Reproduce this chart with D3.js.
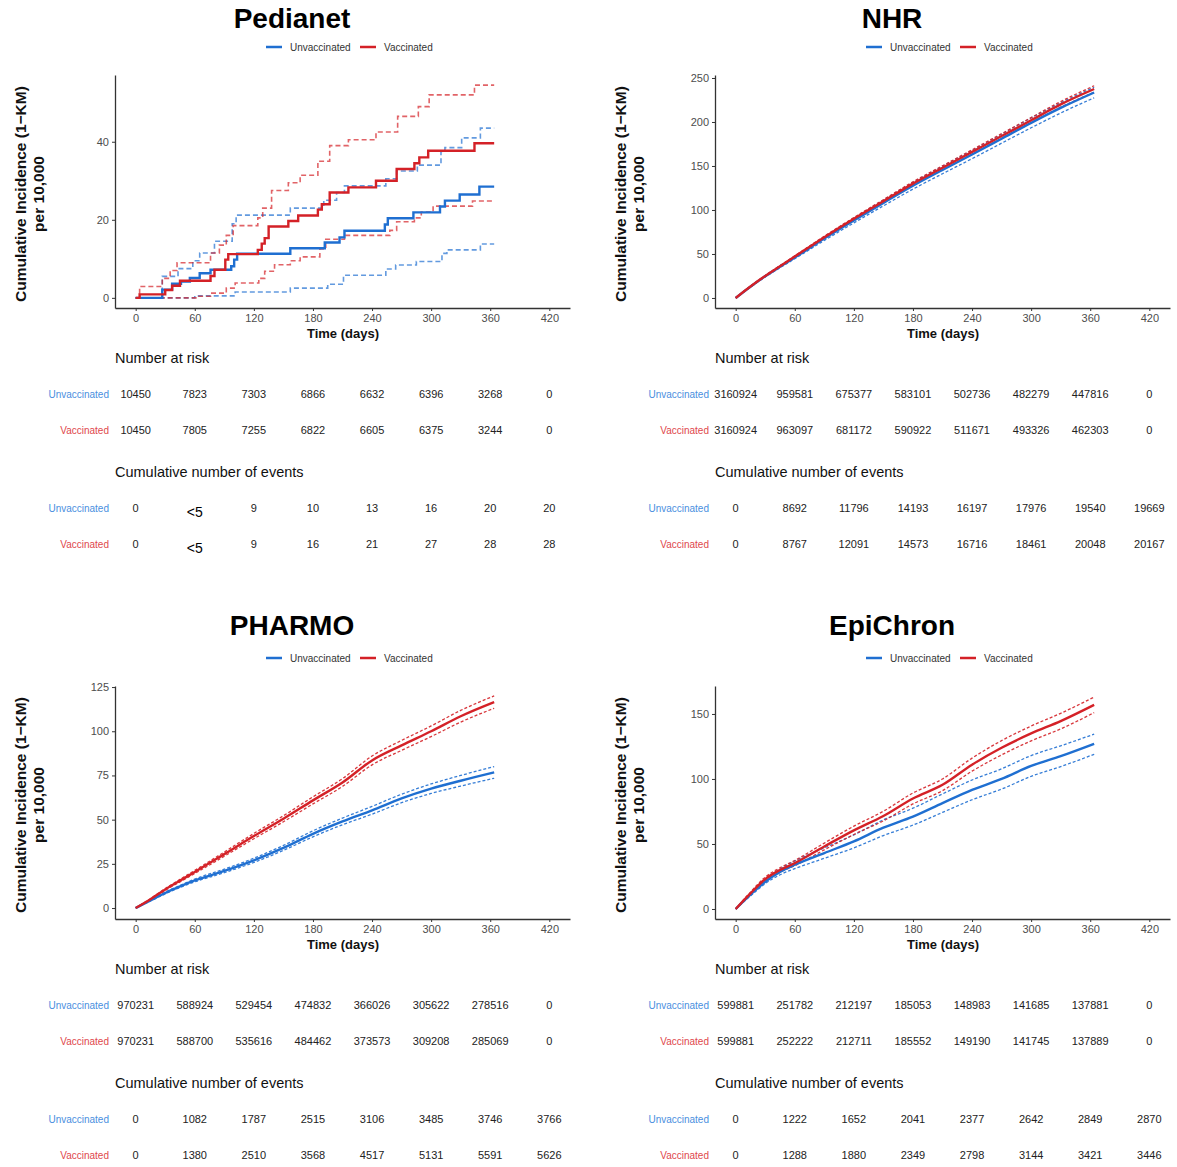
<!DOCTYPE html>
<html lang="en">
<head>
<meta charset="UTF-8">
<title>Cumulative incidence by data source</title>
<script src="https://d3js.org/d3.v7.min.js"></script>
<style>
  body { margin: 0; background: #fff; }
  svg text { font-family: "Liberation Sans", Arial, Helvetica, sans-serif; }
  .title { font-size: 28px; font-weight: bold; fill: #000; }
  .legend-text { font-size: 10px; fill: #333; }
  .tick text { font-size: 11px; fill: #4d4d4d; }
  .axis path, .axis line { stroke: #333; }
  .axis-title { font-size: 13px; font-weight: bold; fill: #111; }
  .ylab { font-size: 15.5px; font-weight: bold; fill: #111; }
  .tbl-head { font-size: 14.5px; fill: #111; }
  .tbl-row { font-size: 10px; }
  .tbl-num { font-size: 11px; fill: #222; }
</style>
</head>
<body>
<div id="chart"></div>
<script>
// ---- shared values ----
const xTicks = [0, 60, 120, 180, 240, 300, 360, 420];
const groups = ["Unvaccinated", "Vaccinated"];

// ---- Pedianet (step curves: [day, value]) ----
const pedianetUnvacc = [[0,0],[27,2.1],[37,3.6],[46,4.2],[55,5.1],[65,6.3],[76,7.2],[97,8.1],[100,9.8],[103,11.3],[157,12.7],[192,14.2],[207,15.5],[212,17.2],[253,18.8],[256,20.4],[282,21.9],[309,23.4],[314,24.9],[329,26.5],[349,28.5],[364,28.5]];
const pedianetUnvaccLo = [[0,0],[60,0.5],[101,1.5],[157,2.5],[195,3.5],[211,5.8],[254,7.4],[264,8.4],[285,9.3],[311,11.4],[316,12.3],[350,13.8],[364,13.8]];
const pedianetUnvaccHi = [[0,0],[27,5.5],[43,7.5],[58,9.5],[65,11.5],[80,14.5],[98,19],[102,21.2],[157,23],[191,25],[204,27],[212,28.7],[254,30.5],[265,32.5],[286,34],[310,37.5],[314,38.5],[331,41],[350,43.5],[364,43.5]];
const pedianetVacc = [[0,0],[4,0.9],[30,2.0],[37,3.1],[45,4.4],[76,5.6],[80,7.2],[91,9.8],[94,11.2],[124,12.3],[128,13.9],[131,15.3],[135,18.3],[155,19.7],[165,21.1],[185,22.6],[189,24],[197,27],[216,28.3],[244,30],[265,33],[283,34.5],[288,36],[297,37.7],[344,39.6],[364,39.6]];
const pedianetVaccLo = [[0,0],[62,0.4],[76,1.2],[92,2.5],[101,3.8],[125,5],[131,6.8],[141,8.5],[157,9.5],[167,10.5],[187,12.5],[193,15],[212,16],[258,17.3],[265,19.5],[283,20.5],[290,22],[302,23.5],[342,24.8],[364,24.8]];
const pedianetVaccHi = [[0,0],[4,2.9],[27,5],[35,7],[42,9],[76,11.5],[85,13.5],[92,16],[99,18.5],[124,20.5],[129,23],[138,27.5],[155,29.5],[167,31.4],[185,35],[197,39],[216,40.5],[244,42.5],[266,46.5],[287,49],[298,52],[344,54.5],[364,54.5]];

// ---- smooth curves sampled on these days ----
const smoothDays = [0, 15, 30, 45, 60, 90, 120, 150, 180, 210, 240, 270, 300, 330, 364];

const nhrUnvacc   = [0, 12.8, 24.6, 35.5, 46, 67.5, 88, 108, 127.5, 145.5, 163, 181, 199, 216, 233.5];
const nhrUnvaccLo = [0, 12.3, 23.8, 34.4, 44.6, 65.4, 85.3, 104.7, 123.7, 141.2, 158.3, 175.9, 193.4, 210.2, 227.5];
const nhrUnvaccHi = [0, 13.2, 25.4, 36.6, 47.4, 69.6, 90.7, 111.3, 131.3, 149.8, 167.7, 186.1, 204.6, 221.8, 239.5];
const nhrVacc     = [0, 13, 25, 36, 47, 69, 90, 110, 130, 148, 166, 184, 202, 220, 237.5];
const nhrVaccLo   = [0, 12.6, 24.4, 35.3, 46.2, 67.8, 88.6, 108.3, 128, 145.8, 163.6, 181.3, 199, 216.8, 233.8];
const nhrVaccHi   = [0, 13.4, 25.6, 36.7, 47.8, 70.2, 91.4, 111.7, 132, 150.2, 168.4, 186.7, 205, 223.2, 241.2];

const pharmoUnvacc   = [0, 4.3, 8.5, 12.2, 15.6, 21, 27, 34, 42, 49, 55.3, 62, 67.5, 72, 76.7];
const pharmoUnvaccLo = [0, 4, 8, 11.6, 14.8, 20, 25.8, 32.6, 40.3, 47.1, 53.1, 59.6, 64.8, 69, 73.4];
const pharmoUnvaccHi = [0, 4.6, 9, 12.8, 16.4, 22, 28.2, 35.4, 43.7, 50.9, 57.5, 64.4, 70.2, 75, 80];
const pharmoVacc     = [0, 5, 10.5, 15.5, 20.4, 30.5, 40.7, 50.5, 60.9, 71, 83.5, 92, 100, 108.5, 116.5];
const pharmoVaccLo   = [0, 4.7, 10, 14.8, 19.5, 29.3, 39.2, 48.8, 58.9, 68.8, 81, 89.2, 97, 105.2, 113];
const pharmoVaccHi   = [0, 5.3, 11, 16.2, 21.3, 31.7, 42.2, 52.2, 62.9, 73.2, 86, 94.8, 103, 111.8, 120];

const epiUnvacc   = [0, 11, 21, 28.5, 34, 43, 52, 62.5, 71, 81.4, 91.6, 100, 110, 117.5, 127];
const epiUnvaccLo = [0, 10, 19.5, 26.3, 31, 39, 47, 56.5, 64.5, 74.3, 84, 92.2, 102, 109.5, 119];
const epiUnvaccHi = [0, 12, 22.5, 30.7, 37, 47, 57, 68.5, 77.5, 88.5, 99.2, 107.8, 118, 125.5, 134.5];
const epiVacc     = [0, 12, 23, 30, 35.3, 48.1, 60.5, 71.5, 85, 95.5, 111, 124, 135, 144.5, 157];
const epiVaccLo   = [0, 11, 21.5, 28.3, 33.3, 45.5, 57.3, 67.8, 80.8, 91, 106, 118.5, 129.3, 138.5, 151];
const epiVaccHi   = [0, 13, 24.5, 31.7, 37.3, 50.7, 63.7, 75.2, 89.2, 100, 116, 129.5, 140.7, 150.5, 163];

// ---- risk tables (values at xTicks) ----
const pedianetRiskUnvacc = [10450, 7823, 7303, 6866, 6632, 6396, 3268, 0];
const pedianetRiskVacc   = [10450, 7805, 7255, 6822, 6605, 6375, 3244, 0];
const pedianetEventsUnvacc = [0, "<5", 9, 10, 13, 16, 20, 20];
const pedianetEventsVacc   = [0, "<5", 9, 16, 21, 27, 28, 28];

const nhrRiskUnvacc = [3160924, 959581, 675377, 583101, 502736, 482279, 447816, 0];
const nhrRiskVacc   = [3160924, 963097, 681172, 590922, 511671, 493326, 462303, 0];
const nhrEventsUnvacc = [0, 8692, 11796, 14193, 16197, 17976, 19540, 19669];
const nhrEventsVacc   = [0, 8767, 12091, 14573, 16716, 18461, 20048, 20167];

const pharmoRiskUnvacc = [970231, 588924, 529454, 474832, 366026, 305622, 278516, 0];
const pharmoRiskVacc   = [970231, 588700, 535616, 484462, 373573, 309208, 285069, 0];
const pharmoEventsUnvacc = [0, 1082, 1787, 2515, 3106, 3485, 3746, 3766];
const pharmoEventsVacc   = [0, 1380, 2510, 3568, 4517, 5131, 5591, 5626];

const epiRiskUnvacc = [599881, 251782, 212197, 185053, 148983, 141685, 137881, 0];
const epiRiskVacc   = [599881, 252222, 212711, 185552, 149190, 141745, 137889, 0];
const epiEventsUnvacc = [0, 1222, 1652, 2041, 2377, 2642, 2849, 2870];
const epiEventsVacc   = [0, 1288, 1880, 2349, 2798, 3144, 3421, 3446];

// ---- styling ----
const lineColor = { Unvaccinated: "#1f6fd1", Vaccinated: "#d42127" };
const labelColor = { Unvaccinated: "#4a8fe0", Vaccinated: "#e0474c" };

const zip = (days, vals) => days.map((d, i) => [d, vals[i]]);

const panels = [
  { title: "Pedianet", dx: 0, dy: 0, titleY: 28, step: true,
    yDomain: [-2.6, 57.1], yTicks: [0, 20, 40],
    curves: {
      Unvaccinated: [pedianetUnvacc, pedianetUnvaccLo, pedianetUnvaccHi],
      Vaccinated: [pedianetVacc, pedianetVaccLo, pedianetVaccHi] },
    risk: [pedianetRiskUnvacc, pedianetRiskVacc],
    events: [pedianetEventsUnvacc, pedianetEventsVacc] },
  { title: "NHR", dx: 600, dy: 0, titleY: 28, step: false,
    yDomain: [-11.4, 253.4], yTicks: [0, 50, 100, 150, 200, 250],
    curves: {
      Unvaccinated: [zip(smoothDays, nhrUnvacc), zip(smoothDays, nhrUnvaccLo), zip(smoothDays, nhrUnvaccHi)],
      Vaccinated: [zip(smoothDays, nhrVacc), zip(smoothDays, nhrVaccLo), zip(smoothDays, nhrVaccHi)] },
    risk: [nhrRiskUnvacc, nhrRiskVacc],
    events: [nhrEventsUnvacc, nhrEventsVacc] },
  { title: "PHARMO", dx: 0, dy: 611, titleY: 24, step: false,
    yDomain: [-6.2, 125.6], yTicks: [0, 25, 50, 75, 100, 125],
    curves: {
      Unvaccinated: [zip(smoothDays, pharmoUnvacc), zip(smoothDays, pharmoUnvaccLo), zip(smoothDays, pharmoUnvaccHi)],
      Vaccinated: [zip(smoothDays, pharmoVacc), zip(smoothDays, pharmoVaccLo), zip(smoothDays, pharmoVaccHi)] },
    risk: [pharmoRiskUnvacc, pharmoRiskVacc],
    events: [pharmoEventsUnvacc, pharmoEventsVacc] },
  { title: "EpiChron", dx: 600, dy: 611, titleY: 24, step: false,
    yDomain: [-7.7, 171.5], yTicks: [0, 50, 100, 150],
    curves: {
      Unvaccinated: [zip(smoothDays, epiUnvacc), zip(smoothDays, epiUnvaccLo), zip(smoothDays, epiUnvaccHi)],
      Vaccinated: [zip(smoothDays, epiVacc), zip(smoothDays, epiVaccLo), zip(smoothDays, epiVaccHi)] },
    risk: [epiRiskUnvacc, epiRiskVacc],
    events: [epiEventsUnvacc, epiEventsVacc] }
];

const svg = d3.select("#chart").append("svg")
  .attr("width", 1177)
  .attr("height", 1167);

panels.forEach(p => {
  const g = svg.append("g").attr("transform", `translate(${p.dx},${p.dy})`);

  // title
  g.append("text").attr("class", "title")
    .attr("x", 292).attr("y", p.titleY)
    .attr("text-anchor", "middle")
    .text(p.title);

  // legend
  const legendItems = [{ name: "Unvaccinated", x: 266 }, { name: "Vaccinated", x: 360 }];
  legendItems.forEach(it => {
    g.append("line")
      .attr("x1", it.x).attr("x2", it.x + 16)
      .attr("y1", 47).attr("y2", 47)
      .attr("stroke", lineColor[it.name]).attr("stroke-width", 2.5);
    g.append("text").attr("class", "legend-text")
      .attr("x", it.x + 24).attr("y", 50.5)
      .text(it.name);
  });

  const x = d3.scaleLinear().domain([-21, 441]).range([115, 570]);
  const y = d3.scaleLinear().domain(p.yDomain).range([308, 75]);

  // axes
  g.append("g").attr("class", "axis")
    .attr("transform", "translate(0,308)")
    .call(d3.axisBottom(x).tickValues(xTicks).tickSize(3).tickPadding(3).tickSizeOuter(0))
    .call(s => s.select(".domain").attr("stroke-width", 1.3));
  g.append("g").attr("class", "axis")
    .attr("transform", "translate(115,0)")
    .call(d3.axisLeft(y).tickValues(p.yTicks).tickSize(3).tickPadding(3).tickSizeOuter(0))
    .call(s => s.select(".domain").attr("stroke-width", 1.3));

  g.append("text").attr("class", "axis-title")
    .attr("x", 343).attr("y", 338)
    .attr("text-anchor", "middle")
    .text("Time (days)");

  const ylab = g.append("text").attr("class", "ylab")
    .attr("transform", "translate(26,194) rotate(-90)")
    .attr("text-anchor", "middle");
  ylab.append("tspan").attr("x", 0).attr("y", 0).text("Cumulative Incidence (1\u2212KM)");
  ylab.append("tspan").attr("x", 0).attr("y", 18).text("per 10,000");

  // curves
  const line = d3.line()
    .x(d => x(d[0]))
    .y(d => y(d[1]))
    .curve(p.step ? d3.curveStepAfter : d3.curveMonotoneX);

  const plot = g.append("g");
  groups.forEach(name => {
    const [est, lo, hi] = p.curves[name];
    [lo, hi].forEach(ci => {
      plot.append("path").datum(ci)
        .attr("d", line)
        .attr("fill", "none")
        .attr("stroke", lineColor[name])
        .attr("stroke-width", p.step ? 1.6 : 1.3)
        .attr("stroke-opacity", p.step ? 0.7 : 0.9)
        .attr("stroke-dasharray", p.step ? "5,3" : "3,2");
    });
  });
  groups.forEach(name => {
    plot.append("path").datum(p.curves[name][0])
      .attr("d", line)
      .attr("fill", "none")
      .attr("stroke", lineColor[name])
      .attr("stroke-width", 2.4);
  });

  // tables
  const tables = [
    { head: "Number at risk", headY: 363, rowsY: [398, 434], rows: p.risk },
    { head: "Cumulative number of events", headY: 477, rowsY: [512, 548], rows: p.events }
  ];
  tables.forEach(t => {
    g.append("text").attr("class", "tbl-head")
      .attr("x", 115).attr("y", t.headY)
      .text(t.head);
    t.rows.forEach((vals, i) => {
      const name = groups[i];
      g.append("text").attr("class", "tbl-row")
        .attr("x", 109).attr("y", t.rowsY[i] - 0.5)
        .attr("text-anchor", "end")
        .attr("fill", labelColor[name])
        .text(name);
      g.selectAll(null).data(vals).enter().append("text")
        .attr("class", "tbl-num")
        .attr("x", (d, j) => x(xTicks[j]))
        .attr("y", d => d === "<5" ? t.rowsY[i] + 5 : t.rowsY[i])
        .attr("text-anchor", "middle")
        .style("font-size", d => d === "<5" ? "14px" : null)
        .style("fill", d => d === "<5" ? "#000" : null)
        .text(d => d);
    });
  });
});
</script>
</body>
</html>
